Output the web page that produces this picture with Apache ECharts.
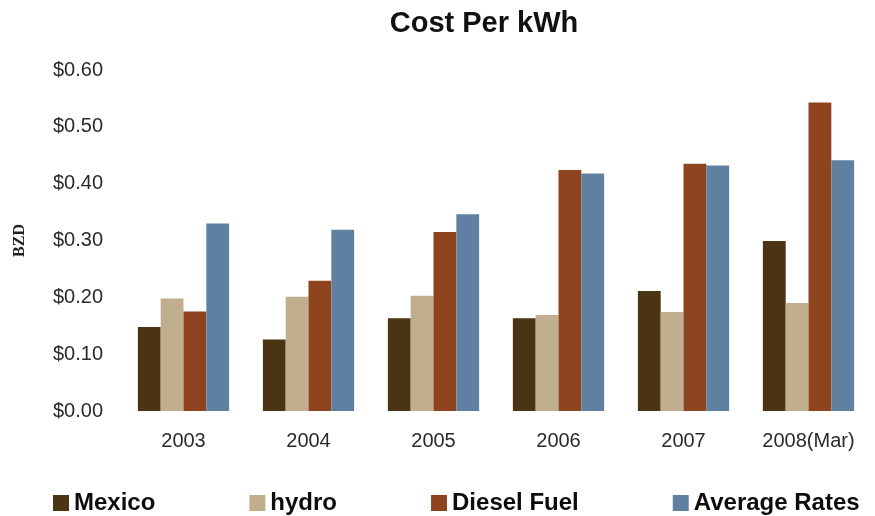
<!DOCTYPE html>
<html>
<head>
<meta charset="utf-8">
<title>Cost Per kWh</title>
<script src="https://cdn.jsdelivr.net/npm/echarts@6/dist/echarts.min.js"></script>
<style>
  html, body { margin: 0; padding: 0; background: #ffffff; }
  #chart { width: 875px; height: 516px; }
</style>
</head>
<body>
<div id="chart"></div>
<script>
// Years on the category axis
const years = ['2003', '2004', '2005', '2006', '2007', '2008(Mar)'];

// Cost per kWh in BZD for each source
const mexico      = [0.148, 0.126, 0.163, 0.163, 0.211, 0.299];
const hydro       = [0.198, 0.201, 0.203, 0.169, 0.174, 0.190];
const dieselFuel  = [0.175, 0.229, 0.315, 0.424, 0.435, 0.543];
const averageRates = [0.330, 0.319, 0.346, 0.418, 0.432, 0.441];

const seriesNames = ['Mexico', 'hydro', 'Diesel Fuel', 'Average Rates'];
const seriesData = [mexico, hydro, dieselFuel, averageRates];
const seriesColors = ['#4b3413', '#c0ae8e', '#8f4420', '#6080a2'];

const chart = echarts.init(document.getElementById('chart'), null, { renderer: 'canvas' });

chart.setOption({
  backgroundColor: '#ffffff',
  animation: false,
  title: {
    text: 'Cost Per kWh',
    left: 479,
    textAlign: 'center',
    top: 4,
    textStyle: {
      fontFamily: 'Liberation Sans, Arial, sans-serif',
      fontSize: 29,
      fontWeight: 'bold',
      color: '#111111'
    }
  },
  legend: {
    data: seriesNames,
    left: 48,
    top: 486,
    itemWidth: 16,
    itemHeight: 16,
    itemGap: 94,
    icon: 'rect',
    textStyle: {
      fontFamily: 'Liberation Sans, Arial, sans-serif',
      fontSize: 24,
      fontWeight: 'bold',
      color: '#0d0d0d'
    }
  },
  grid: {
    left: 121,
    right: 4,
    top: 70,
    bottom: 105,
    containLabel: false
  },
  xAxis: {
    type: 'category',
    data: years,
    axisLine: { show: false },
    axisTick: { show: false },
    axisLabel: {
      margin: 20,
      fontFamily: 'Liberation Sans, Arial, sans-serif',
      fontSize: 20,
      color: '#2a2a2a'
    }
  },
  yAxis: {
    type: 'value',
    min: 0,
    max: 0.6,
    interval: 0.1,
    name: 'BZD',
    nameLocation: 'middle',
    nameRotate: 90,
    nameGap: 93,
    nameTextStyle: {
      fontFamily: 'Liberation Serif, Times New Roman, serif',
      fontSize: 16,
      fontWeight: 'bold',
      color: '#222222'
    },
    axisLine: { show: false },
    axisTick: { show: false },
    splitLine: { show: false },
    axisLabel: {
      margin: 18,
      fontFamily: 'Liberation Sans, Arial, sans-serif',
      fontSize: 20,
      color: '#2a2a2a',
      formatter: v => '$' + v.toFixed(2)
    }
  },
  series: seriesNames.map((name, i) => ({
    name: name,
    type: 'bar',
    data: seriesData[i],
    barGap: '0%',
    barCategoryGap: '27%',
    itemStyle: { color: seriesColors[i] }
  }))
});
</script>
</body>
</html>
